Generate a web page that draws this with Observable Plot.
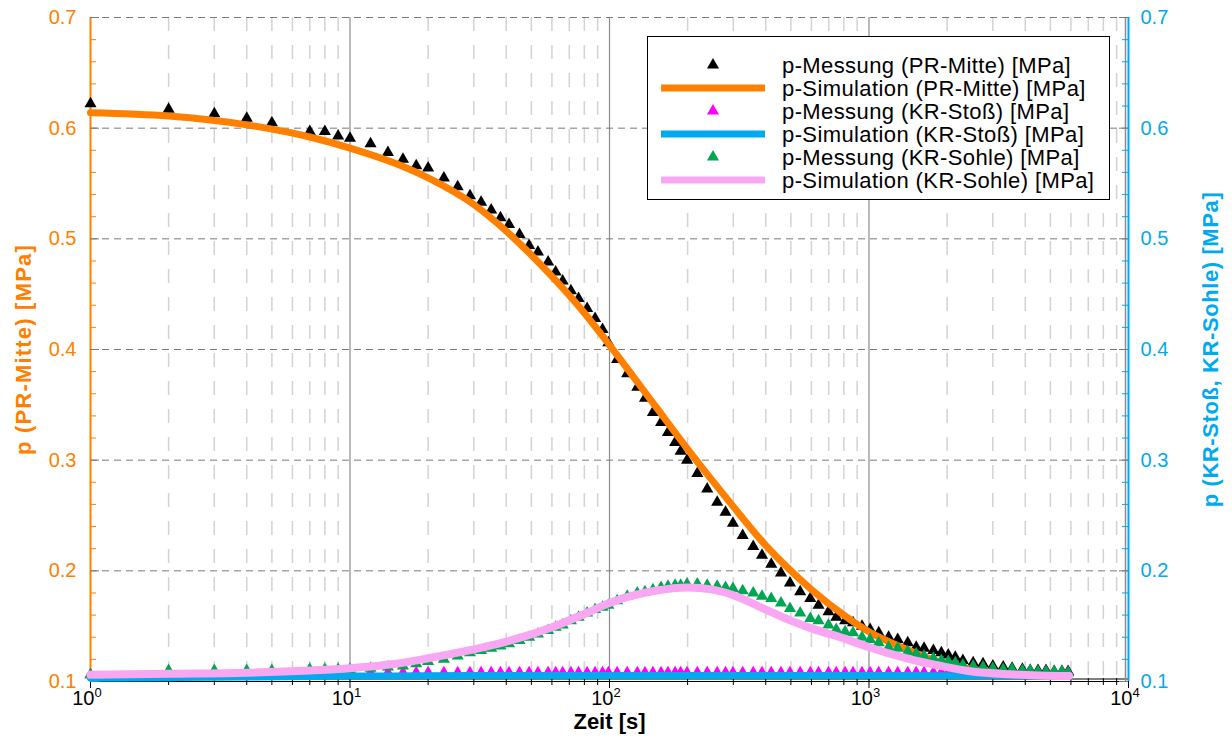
<!DOCTYPE html>
<html><head><meta charset="utf-8">
<script src="https://cdn.jsdelivr.net/npm/d3@7"></script>
<script src="https://cdn.jsdelivr.net/npm/@observablehq/plot@0.6"></script>
<style>
body{margin:0;background:#fff;}
#wrap{position:relative;width:1232px;height:744px;}
#legend{position:absolute;left:647px;top:36px;}
</style></head><body><div id="wrap"></div>
<script>
// ---- measurement times [s] ----
const times = [1,2,3,4,5,7,8,9,10,12,14,16,18,20,23,26,29,32,35,38,41,45,49,53,58,62,66,71,76,82,88,94,99,107,117,128,137,147,158,168,179,188,199,218,238,260,280,299,326,358,387,420,458,496,543,594,639,698,748,809,868,940,1010,1090,1190,1290,1410,1520,1630,1770,1900,2020,2150,2300,2520,2750,3000,3290,3560,3900,4180,4480,4810,5170,5540,5850];
// p-Messung (PR-Mitte) [MPa]
const pMessPR = [0.622,0.617,0.613,0.609,0.605,0.597,0.597,0.593,0.591,
0.586,0.578,0.572,0.566,0.564,
0.555,0.547,0.539,0.533,0.526,0.519,0.513,0.504,0.494,0.488,
0.479,0.470,0.462,0.453,0.446,0.437,0.428,0.418,0.406,
0.391,0.378,0.366,0.356,0.343,0.334,0.325,0.316,0.308,0.300,
0.288,0.274,0.262,0.253,0.243,
0.232,0.222,0.214,0.206,0.198,0.189,0.181,0.175,0.169,0.163,0.158,0.155,0.153,
0.150,0.147,0.144,0.140,0.138,0.135,0.131,0.130,0.128,0.126,
0.124,0.122,0.119,0.117,0.116,0.114,0.113,0.112,0.111,0.110,
0.110,0.110,0.109,0.109,0.109];
// p-Messung (KR-Stoß) [MPa]
const pMessStoss = [0.106,0.108,0.108,0.108,0.108,0.108,0.108,0.108,0.108,
0.108,0.108,0.108,0.108,0.108,
0.108,0.108,0.108,0.108,0.108,0.108,0.108,0.108,0.108,0.108,
0.108,0.108,0.108,0.108,0.108,0.108,0.108,0.108,0.108,
0.108,0.108,0.108,0.108,0.108,0.108,0.108,0.108,0.108,0.108,
0.108,0.108,0.108,0.108,0.108,
0.108,0.108,0.108,0.108,0.108,0.108,0.108,0.108,0.108,0.108,0.108,0.108,0.108,
0.108,0.108,0.108,0.108,0.108,0.108,0.108,0.108,0.108,0.108,
0.108,0.108,0.108,0.108,0.108,0.108,0.108,0.108,0.108,0.108,
0.108,0.108,0.108,0.108,0.108];
// p-Messung (KR-Sohle) [MPa]
const pMessSohle = [0.106,0.110,0.110,0.110,0.110,0.111,0.111,0.111,0.111,
0.112,0.113,0.114,0.116,0.118,
0.120,0.123,0.126,0.128,0.130,0.132,0.134,0.137,0.140,0.143,
0.146,0.149,0.151,0.155,0.158,0.162,0.165,0.167,0.169,
0.173,0.177,0.180,0.181,0.183,0.185,0.186,0.187,0.187,0.188,
0.188,0.187,0.186,0.185,0.184,
0.182,0.180,0.177,0.175,0.171,0.166,0.162,0.157,0.155,0.151,0.147,0.145,0.144,
0.140,0.138,0.135,0.131,0.130,0.127,0.125,0.123,0.121,0.119,
0.118,0.117,0.115,0.114,0.113,0.112,0.111,0.111,0.110,0.110,
0.109,0.109,0.109,0.109,0.108];

// ---- simulation ----
const simTimes = [1,2,4,7,10,15,20,30,40,60,80,100,150,200,250,300,400,500,600,800,1000,1400,1900,2500,3500,4500,5900];
const pSimPR    = [0.614,0.611,0.603,0.592,0.582,0.568,0.555,0.531,0.507,0.466,0.433,0.404,0.349,0.310,0.281,0.258,0.223,0.200,0.183,0.160,0.145,0.129,0.117,0.111,0.107,0.106,0.106];
const pSimStoss = [0.103,0.1035,0.104,0.1045,0.105,0.105,0.1052,0.1054,0.1055,0.1055,0.1055,0.1055,0.1055,0.1055,0.1055,0.1055,0.1055,0.1055,0.1055,0.1055,0.1055,0.1054,0.1053,0.1052,0.1051,0.105,0.105];
const pSimSohle = [0.106,0.107,0.108,0.110,0.112,0.116,0.121,0.129,0.136,0.149,0.161,0.171,0.182,0.185,0.183,0.178,0.165,0.155,0.148,0.139,0.131,0.121,0.114,0.109,0.1065,0.1055,0.105];

// ---- ticks / labels ----
const yTicks = [0.1,0.2,0.3,0.4,0.5,0.6,0.7];
const yMinorTicks = [0.12,0.14,0.16,0.18,0.22,0.24,0.26,0.28,0.32,0.34,0.36,0.38,0.42,0.44,0.46,0.48,0.52,0.54,0.56,0.58,0.62,0.64,0.66,0.68];
const xDecades = [1,10,100,1000,10000];
const xExponents = ["0","1","2","3","4"];
const xMinorTicks = [2,3,4,5,6,7,8,9,20,30,40,50,60,70,80,90,200,300,400,500,600,700,800,900,2000,3000,4000,5000,6000,7000,8000,9000];
const xTitle = "Zeit [s]";
const yTitleLeft = "p (PR-Mitte) [MPa]";
const yTitleRight = "p (KR-Stoß, KR-Sohle) [MPa]";
const legendLabels = ["p-Messung (PR-Mitte) [MPa]","p-Simulation (PR-Mitte) [MPa]","p-Messung (KR-Stoß) [MPa]","p-Simulation (KR-Stoß) [MPa]","p-Messung (KR-Sohle) [MPa]","p-Simulation (KR-Sohle) [MPa]"];
const legendKinds = ["tri","line","tri","line","tri","line"];

const ORANGE="#FF8000", BLUE="#00AAF0", BLACK="#000000", MAGENTA="#FF00FF", GREEN="#00A651", PINK="#F9A7F3";
const legendColors = [BLACK,ORANGE,MAGENTA,BLUE,GREEN,PINK];
const FONT = "'Liberation Sans', Arial, Helvetica, sans-serif";

const W=1232, H=744, ML=90, MR=104, MT=17, MB=63;
const pxPerDecade = (W-ML-MR)/4, pxPerUnit = (H-MT-MB)/0.6;
const xf = px => 10 ** (px/pxPerDecade);
const yu = px => px/pxPerUnit;

const mess = arr => times.map((t,i)=>({t, v: arr[i]}));
const sim = arr => simTimes.map((t,i)=>({t, v: arr[i]}));
const R = 4.5;

const chart = Plot.plot({
  width:W, height:H, marginLeft:ML, marginRight:MR, marginTop:MT, marginBottom:MB,
  x:{type:"log", domain:[1,10000], axis:null},
  y:{domain:[0.1,0.7], axis:null},
  style:{fontFamily:FONT, background:"#fff", overflow:"visible"},
  marks:[
    // grid
    Plot.ruleX(xMinorTicks, {stroke:"#d3d3d3", strokeWidth:1.5, strokeDasharray:"14,14"}),
    Plot.ruleX(xDecades.slice(1,4), {stroke:"#8c8c8c", strokeWidth:1.2}),
    Plot.ruleY(yTicks.slice(1), {stroke:"#7a7a7a", strokeWidth:1, strokeDasharray:"7,5"}),
    // bottom axis
    Plot.ruleY([0.1], {stroke:"#000", strokeWidth:1.2}),
    Plot.ruleY([0.1], {stroke:"#000", strokeWidth:1, dy:-2.5}),
    Plot.ruleX(xMinorTicks, {y1:0.1-yu(4), y2:0.1+yu(3), stroke:"#000"}),
    Plot.ruleX(xDecades, {y1:0.1-yu(7), y2:0.1+yu(9), stroke:"#000"}),
    // left axis
    Plot.ruleX([1], {stroke:ORANGE, strokeWidth:2}),
    Plot.ruleY(yMinorTicks, {x1:1, x2:xf(6), stroke:ORANGE}),
    Plot.ruleY(yTicks, {x1:1, x2:xf(9), stroke:"#7a7a7a"}),
    // right axis
    Plot.ruleX([10000], {stroke:"#8c8c8c", strokeWidth:1.5, dx:-3}),
    Plot.ruleX([10000], {stroke:BLUE, strokeWidth:2}),
    Plot.ruleY(yMinorTicks, {x1:10000/xf(6), x2:10000, stroke:BLUE}),
    Plot.ruleY(yTicks, {x1:10000/xf(9), x2:10000, stroke:"#7a7a7a"}),
    // data
    Plot.dot(mess(pMessPR), {x:"t", y:"v", symbol:"triangle", r:R, fill:BLACK}),
    Plot.line(sim(pSimPR), {x:"t", y:"v", stroke:ORANGE, strokeWidth:7, curve:"monotone-x"}),
    Plot.dot(mess(pMessStoss), {x:"t", y:"v", symbol:"triangle", r:R, fill:MAGENTA}),
    Plot.line(sim(pSimStoss), {x:"t", y:"v", stroke:BLUE, strokeWidth:7, curve:"monotone-x"}),
    Plot.dot(mess(pMessSohle), {x:"t", y:"v", symbol:"triangle", r:R, fill:GREEN}),
    Plot.line(sim(pSimSohle), {x:"t", y:"v", stroke:PINK, strokeWidth:8, curve:"monotone-x"}),
    // y tick labels
    Plot.text(yTicks, {y:d=>d, frameAnchor:"left", text:d=>d.toFixed(1), textAnchor:"end", dx:-14, fill:ORANGE, fontSize:20, fontFamily:FONT}),
    Plot.text(yTicks, {y:d=>d, frameAnchor:"right", text:d=>d.toFixed(1), textAnchor:"start", dx:12, fill:BLUE, fontSize:20, fontFamily:FONT}),
    // x tick labels
    Plot.text(xDecades, {x:d=>d, frameAnchor:"bottom", text:()=>"10", textAnchor:"end", dx:4, dy:23, fill:"#000", fontSize:20, fontFamily:FONT}),
    Plot.text(xDecades, {x:d=>d, frameAnchor:"bottom", text:(d,i)=>xExponents[i], textAnchor:"start", dx:4, dy:15, fill:"#000", fontSize:13, fontFamily:FONT}),
    // titles
    Plot.text([xTitle], {text:d=>d, frameAnchor:"bottom", textAnchor:"middle", dy:47, fill:"#000", fontSize:22, fontWeight:"bold", fontFamily:FONT}),
    Plot.text([yTitleLeft], {text:d=>d, frameAnchor:"left", textAnchor:"middle", dx:-67, rotate:-90, fill:ORANGE, fontSize:22, fontWeight:"bold", fontFamily:FONT}),
    Plot.text([yTitleRight], {text:d=>d, frameAnchor:"right", textAnchor:"middle", dx:82, rotate:-90, fill:BLUE, fontSize:22, fontWeight:"bold", fontFamily:FONT})
  ]
});
const wrap = document.getElementById("wrap");
wrap.appendChild(chart);

// letter spacing for wide titles
d3.select(chart).selectAll("text").each(function(){
  const t = this.textContent;
  if (t === yTitleLeft) this.setAttribute("letter-spacing","1.2");
  if (t === yTitleRight) this.setAttribute("letter-spacing","0.6");
});

// legend
const LW=464, LH=165;
const lg = d3.select(wrap).append("svg").attr("id","legend").attr("width",LW).attr("height",LH);
lg.append("rect").attr("x",0.5).attr("y",0.5).attr("width",LW-2).attr("height",LH-2).attr("fill","#fff").attr("stroke","#000");
legendLabels.forEach((lab,i)=>{
  const cy = 29 + 23*i;
  if (legendKinds[i]==="tri") {
    lg.append("path").attr("d", d3.symbol(d3.symbolTriangle, R*R*Math.PI)()).attr("transform",`translate(66,${cy})`).attr("fill",legendColors[i]);
  } else {
    lg.append("line").attr("x1",14).attr("x2",118).attr("y1",cy).attr("y2",cy).attr("stroke",legendColors[i]).attr("stroke-width",7);
  }
  lg.append("text").attr("x",135).attr("y",cy).attr("dy","0.36em").attr("font-family",FONT).attr("font-size",22).attr("letter-spacing","0.4").attr("fill","#000").text(lab);
});
</script></body></html>
